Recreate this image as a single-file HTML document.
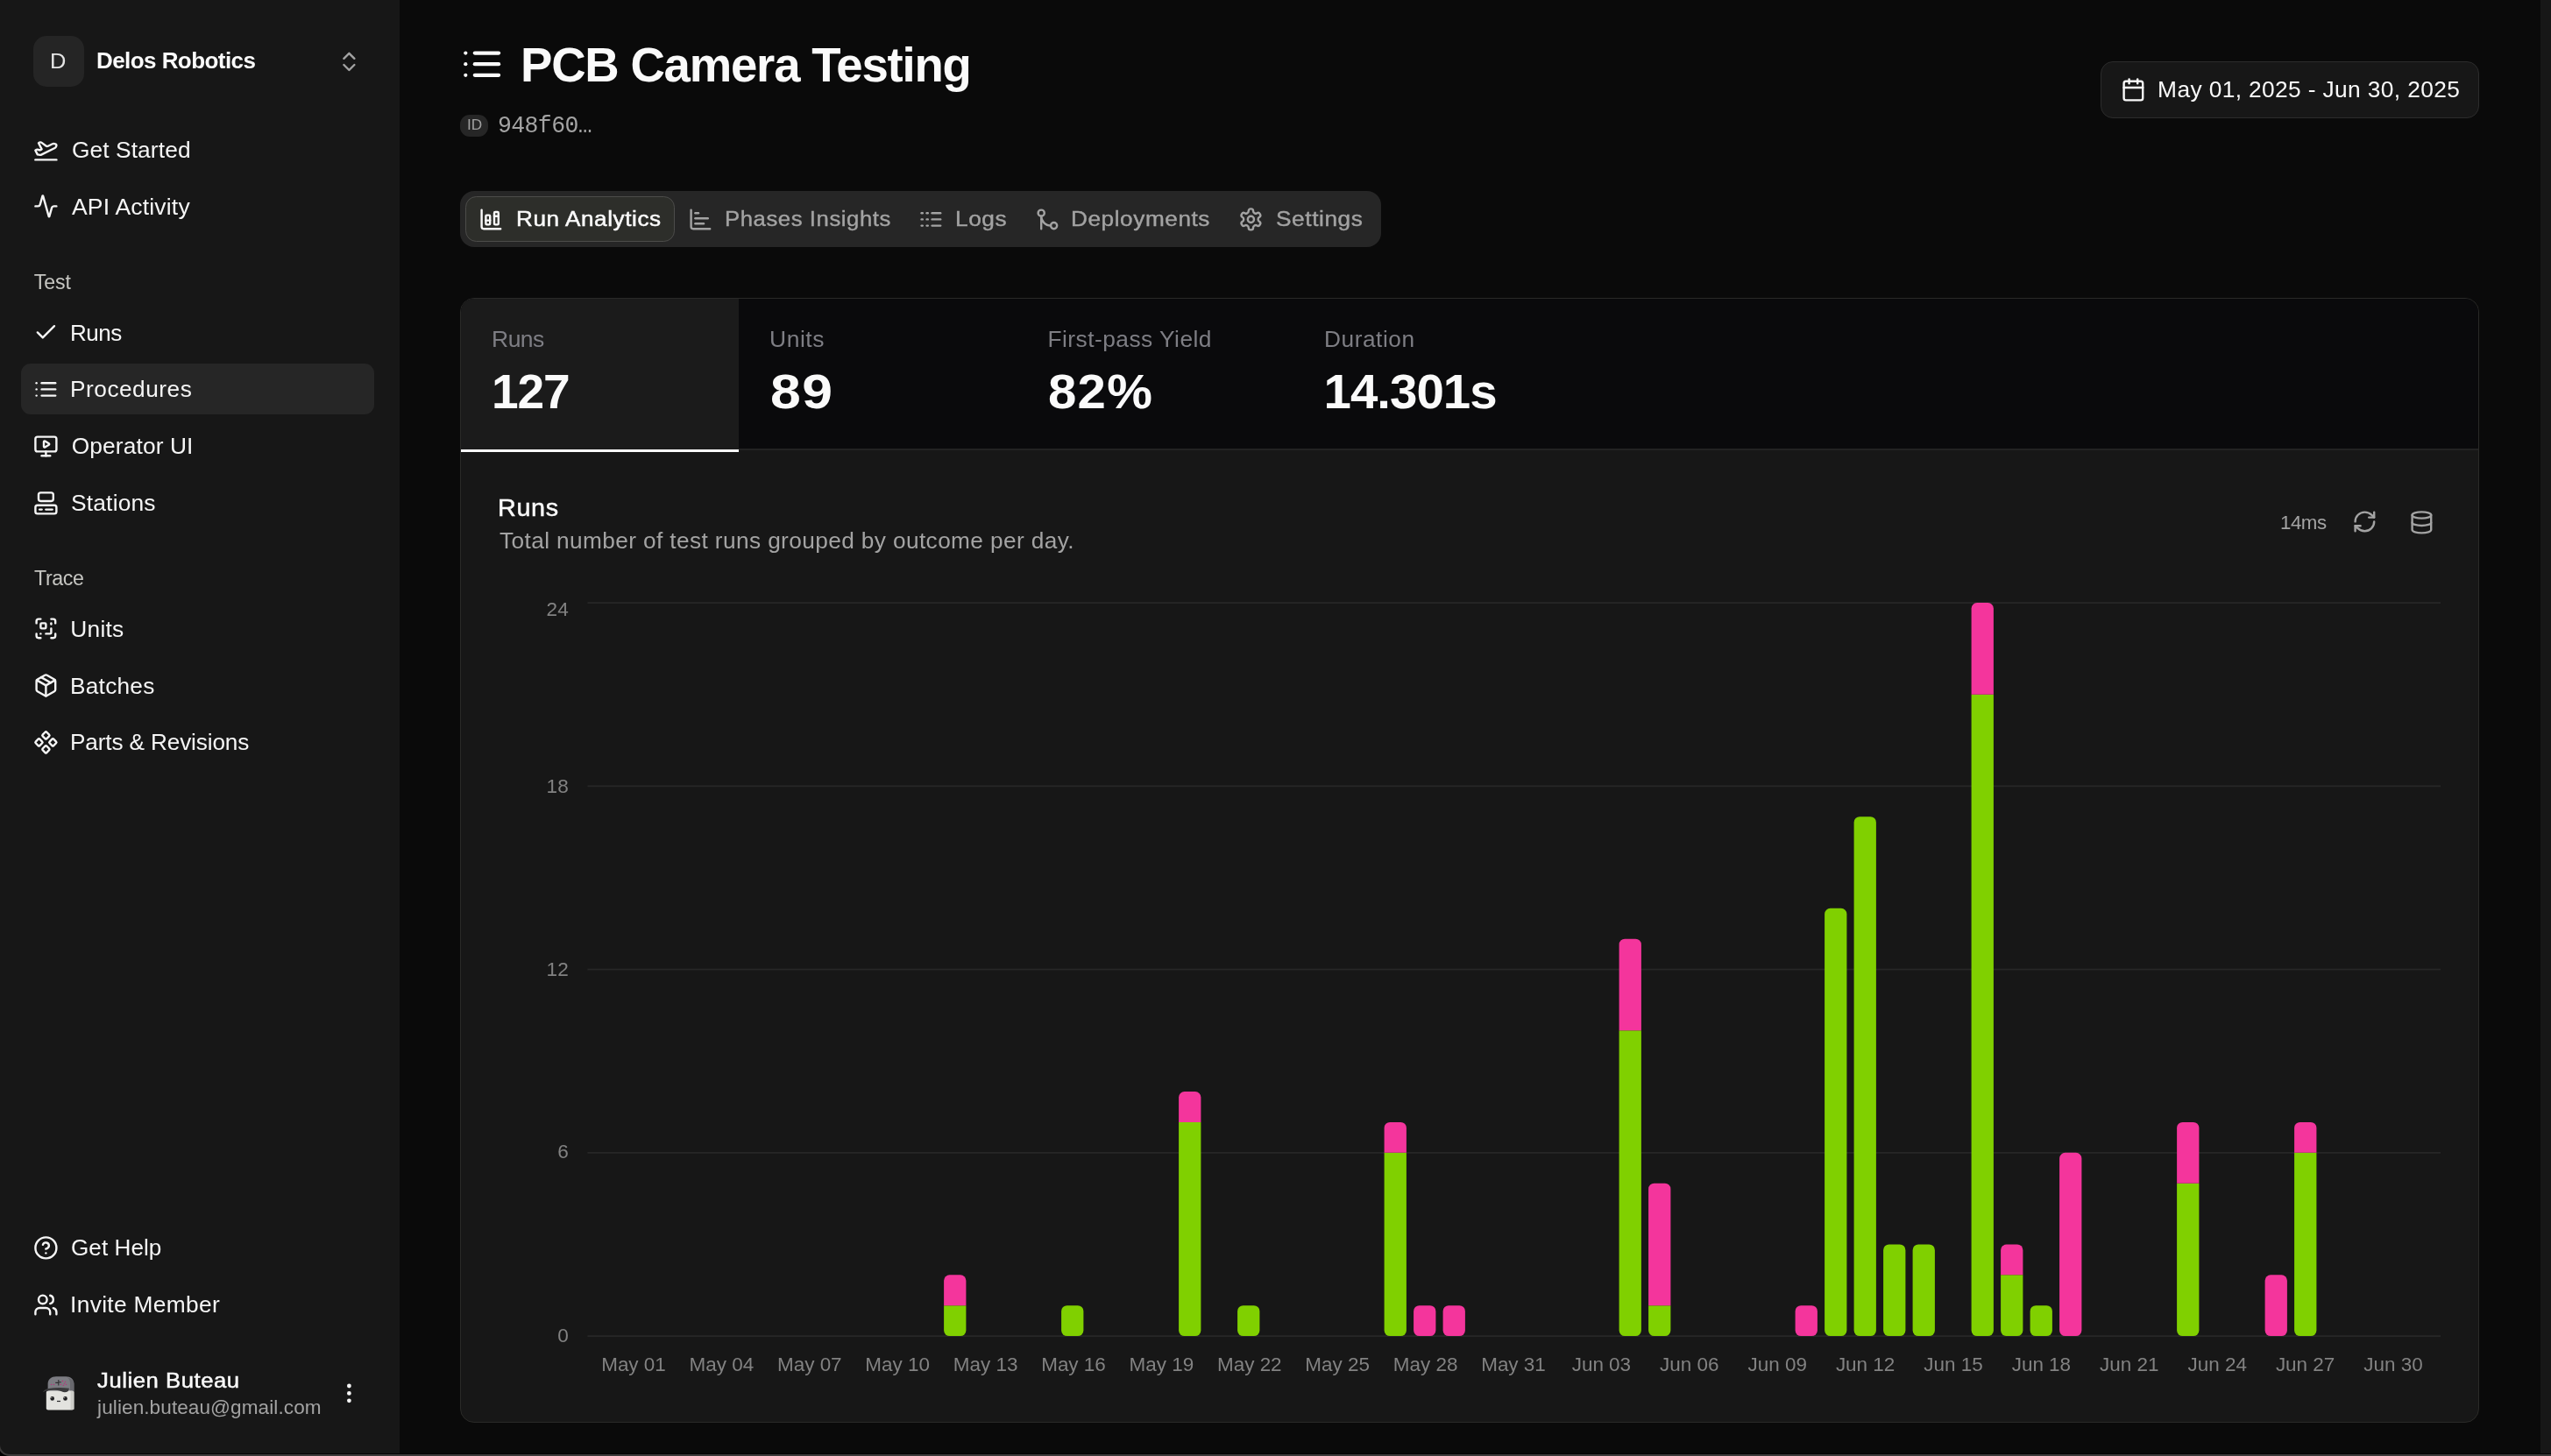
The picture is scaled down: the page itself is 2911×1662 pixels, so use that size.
<!DOCTYPE html>
<html lang="en"><head><meta charset="utf-8"><title>PCB Camera Testing</title>
<style>
html,body{margin:0;padding:0;background:#0a0a0a;}
body{width:2911px;height:1662px;overflow:hidden;position:relative;font-family:"Liberation Sans",sans-serif;}
.a{position:absolute;}
.t{position:absolute;white-space:pre;line-height:1;}
#tx{position:absolute;left:0;top:0;width:2911px;height:1662px;will-change:transform;}
svg.i{position:absolute;fill:none;stroke-linecap:round;stroke-linejoin:round;overflow:visible;}
</style></head><body>

<div class="a" style="left:0;top:0;width:456px;height:1662px;background:#171717"></div>
<div class="a" style="left:2899px;top:0;width:12px;height:1662px;background:#171717"></div>
<div class="a" style="left:38px;top:41px;width:58px;height:58px;border-radius:15px;background:#252525"></div>
<div class="a" style="left:24px;top:415px;width:403px;height:58px;border-radius:11px;background:#262626"></div>
<div class="a" style="left:525.3px;top:131px;width:31.6px;height:24.8px;border-radius:11px;background:#262626"></div>
<div class="a" style="left:525.2px;top:218px;width:1050.6px;height:63.8px;border-radius:16px;background:#262626"></div>
<div class="a" style="left:531.1px;top:223.6px;width:238.6px;height:52.5px;border-radius:12.5px;background:#2d2e2a;box-sizing:border-box;border:1.5px solid #4c4c4a"></div>
<div class="a" style="left:2397px;top:70px;width:432px;height:64.8px;border-radius:14px;background:#171717;box-sizing:border-box;border:1.5px solid #2c2c2c"></div>
<div class="a" style="left:525px;top:340px;width:2304px;height:1283.6px;border-radius:16px;background:#171717;box-sizing:border-box;border:1.6px solid #2a2a28;overflow:hidden"><div class="a" style="left:0;top:0;width:2304px;height:172.6px;background:#0a0a0c"></div><div class="a" style="left:0;top:0;width:316.6px;height:172.6px;background:#1b1b1b"></div><div class="a" style="left:316.6px;top:171.4px;width:2000px;height:1.8px;background:#232323"></div><div class="a" style="left:0;top:171.6px;width:316.6px;height:3.2px;background:#fafafa"></div></div>
<div class="a" style="left:0;top:1658.6px;width:2911px;height:1.4px;background:#040404"></div>
<div class="a" style="left:0;top:1660px;width:2911px;height:2px;background:#3c3a3a"></div>
<div class="a" style="left:0;top:1644px;width:18px;height:18px;background:#000"></div>
<div class="a" style="left:-2px;top:1626px;width:36px;height:36px;border-radius:0 0 0 13px;background:#171717;box-sizing:border-box;border-left:2px solid #3c3a3a;border-bottom:2px solid #3c3a3a"></div>
<svg class="a" style="left:0;top:0" width="2911" height="1662" viewBox="0 0 2911 1662" shape-rendering="geometricPrecision"><rect x="670.4" y="1524.20" width="2114.6" height="1.8" fill="#272727"/><rect x="670.4" y="1314.95" width="2114.6" height="1.8" fill="#272727"/><rect x="670.4" y="1105.70" width="2114.6" height="1.8" fill="#272727"/><rect x="670.4" y="896.45" width="2114.6" height="1.8" fill="#272727"/><rect x="670.4" y="687.20" width="2114.6" height="1.8" fill="#272727"/><path d="M1077.10 1490.22H1102.40V1518.60A6.5 6.5 0 0 1 1095.90 1525.10H1083.60A6.5 6.5 0 0 1 1077.10 1518.60V1490.22Z" fill="#80d000"/><path d="M1083.60 1455.35H1095.90A6.5 6.5 0 0 1 1102.40 1461.85V1490.22H1077.10V1461.85A6.5 6.5 0 0 1 1083.60 1455.35Z" fill="#f4359c"/><path d="M1217.60 1490.22H1229.90A6.5 6.5 0 0 1 1236.40 1496.72V1518.60A6.5 6.5 0 0 1 1229.90 1525.10H1217.60A6.5 6.5 0 0 1 1211.10 1518.60V1496.72A6.5 6.5 0 0 1 1217.60 1490.22Z" fill="#80d000"/><path d="M1345.10 1280.97H1370.40V1518.60A6.5 6.5 0 0 1 1363.90 1525.10H1351.60A6.5 6.5 0 0 1 1345.10 1518.60V1280.97Z" fill="#80d000"/><path d="M1351.60 1246.10H1363.90A6.5 6.5 0 0 1 1370.40 1252.60V1280.97H1345.10V1252.60A6.5 6.5 0 0 1 1351.60 1246.10Z" fill="#f4359c"/><path d="M1418.60 1490.22H1430.90A6.5 6.5 0 0 1 1437.40 1496.72V1518.60A6.5 6.5 0 0 1 1430.90 1525.10H1418.60A6.5 6.5 0 0 1 1412.10 1518.60V1496.72A6.5 6.5 0 0 1 1418.60 1490.22Z" fill="#80d000"/><path d="M1579.60 1315.85H1604.90V1518.60A6.5 6.5 0 0 1 1598.40 1525.10H1586.10A6.5 6.5 0 0 1 1579.60 1518.60V1315.85Z" fill="#80d000"/><path d="M1586.10 1280.97H1598.40A6.5 6.5 0 0 1 1604.90 1287.47V1315.85H1579.60V1287.47A6.5 6.5 0 0 1 1586.10 1280.97Z" fill="#f4359c"/><path d="M1619.60 1490.22H1631.90A6.5 6.5 0 0 1 1638.40 1496.72V1518.60A6.5 6.5 0 0 1 1631.90 1525.10H1619.60A6.5 6.5 0 0 1 1613.10 1518.60V1496.72A6.5 6.5 0 0 1 1619.60 1490.22Z" fill="#f4359c"/><path d="M1653.10 1490.22H1665.40A6.5 6.5 0 0 1 1671.90 1496.72V1518.60A6.5 6.5 0 0 1 1665.40 1525.10H1653.10A6.5 6.5 0 0 1 1646.60 1518.60V1496.72A6.5 6.5 0 0 1 1653.10 1490.22Z" fill="#f4359c"/><path d="M1847.60 1176.35H1872.90V1518.60A6.5 6.5 0 0 1 1866.40 1525.10H1854.10A6.5 6.5 0 0 1 1847.60 1518.60V1176.35Z" fill="#80d000"/><path d="M1854.10 1071.72H1866.40A6.5 6.5 0 0 1 1872.90 1078.22V1176.35H1847.60V1078.22A6.5 6.5 0 0 1 1854.10 1071.72Z" fill="#f4359c"/><path d="M1881.10 1490.22H1906.40V1518.60A6.5 6.5 0 0 1 1899.90 1525.10H1887.60A6.5 6.5 0 0 1 1881.10 1518.60V1490.22Z" fill="#80d000"/><path d="M1887.60 1350.72H1899.90A6.5 6.5 0 0 1 1906.40 1357.22V1490.22H1881.10V1357.22A6.5 6.5 0 0 1 1887.60 1350.72Z" fill="#f4359c"/><path d="M2055.10 1490.22H2067.40A6.5 6.5 0 0 1 2073.90 1496.72V1518.60A6.5 6.5 0 0 1 2067.40 1525.10H2055.10A6.5 6.5 0 0 1 2048.60 1518.60V1496.72A6.5 6.5 0 0 1 2055.10 1490.22Z" fill="#f4359c"/><path d="M2088.60 1036.85H2100.90A6.5 6.5 0 0 1 2107.40 1043.35V1518.60A6.5 6.5 0 0 1 2100.90 1525.10H2088.60A6.5 6.5 0 0 1 2082.10 1518.60V1043.35A6.5 6.5 0 0 1 2088.60 1036.85Z" fill="#80d000"/><path d="M2122.10 932.22H2134.40A6.5 6.5 0 0 1 2140.90 938.72V1518.60A6.5 6.5 0 0 1 2134.40 1525.10H2122.10A6.5 6.5 0 0 1 2115.60 1518.60V938.72A6.5 6.5 0 0 1 2122.10 932.22Z" fill="#80d000"/><path d="M2155.60 1420.47H2167.90A6.5 6.5 0 0 1 2174.40 1426.97V1518.60A6.5 6.5 0 0 1 2167.90 1525.10H2155.60A6.5 6.5 0 0 1 2149.10 1518.60V1426.97A6.5 6.5 0 0 1 2155.60 1420.47Z" fill="#80d000"/><path d="M2189.10 1420.47H2201.40A6.5 6.5 0 0 1 2207.90 1426.97V1518.60A6.5 6.5 0 0 1 2201.40 1525.10H2189.10A6.5 6.5 0 0 1 2182.60 1518.60V1426.97A6.5 6.5 0 0 1 2189.10 1420.47Z" fill="#80d000"/><path d="M2249.60 792.72H2274.90V1518.60A6.5 6.5 0 0 1 2268.40 1525.10H2256.10A6.5 6.5 0 0 1 2249.60 1518.60V792.72Z" fill="#80d000"/><path d="M2256.10 688.10H2268.40A6.5 6.5 0 0 1 2274.90 694.60V792.72H2249.60V694.60A6.5 6.5 0 0 1 2256.10 688.10Z" fill="#f4359c"/><path d="M2283.10 1455.35H2308.40V1518.60A6.5 6.5 0 0 1 2301.90 1525.10H2289.60A6.5 6.5 0 0 1 2283.10 1518.60V1455.35Z" fill="#80d000"/><path d="M2289.60 1420.47H2301.90A6.5 6.5 0 0 1 2308.40 1426.97V1455.35H2283.10V1426.97A6.5 6.5 0 0 1 2289.60 1420.47Z" fill="#f4359c"/><path d="M2323.10 1490.22H2335.40A6.5 6.5 0 0 1 2341.90 1496.72V1518.60A6.5 6.5 0 0 1 2335.40 1525.10H2323.10A6.5 6.5 0 0 1 2316.60 1518.60V1496.72A6.5 6.5 0 0 1 2323.10 1490.22Z" fill="#80d000"/><path d="M2356.60 1315.85H2368.90A6.5 6.5 0 0 1 2375.40 1322.35V1518.60A6.5 6.5 0 0 1 2368.90 1525.10H2356.60A6.5 6.5 0 0 1 2350.10 1518.60V1322.35A6.5 6.5 0 0 1 2356.60 1315.85Z" fill="#f4359c"/><path d="M2484.10 1350.72H2509.40V1518.60A6.5 6.5 0 0 1 2502.90 1525.10H2490.60A6.5 6.5 0 0 1 2484.10 1518.60V1350.72Z" fill="#80d000"/><path d="M2490.60 1280.97H2502.90A6.5 6.5 0 0 1 2509.40 1287.47V1350.72H2484.10V1287.47A6.5 6.5 0 0 1 2490.60 1280.97Z" fill="#f4359c"/><path d="M2591.10 1455.35H2603.40A6.5 6.5 0 0 1 2609.90 1461.85V1518.60A6.5 6.5 0 0 1 2603.40 1525.10H2591.10A6.5 6.5 0 0 1 2584.60 1518.60V1461.85A6.5 6.5 0 0 1 2591.10 1455.35Z" fill="#f4359c"/><path d="M2618.10 1315.85H2643.40V1518.60A6.5 6.5 0 0 1 2636.90 1525.10H2624.60A6.5 6.5 0 0 1 2618.10 1518.60V1315.85Z" fill="#80d000"/><path d="M2624.60 1280.97H2636.90A6.5 6.5 0 0 1 2643.40 1287.47V1315.85H2618.10V1287.47A6.5 6.5 0 0 1 2624.60 1280.97Z" fill="#f4359c"/></svg>
<svg class="a" style="left:46px;top:1568px" width="44" height="46" viewBox="46 1568 44 46">
<path d="M54.6 1588v-8.5c0-5 4-8.2 9.5-8.2h11c5.5 0 9.3 3.3 9.3 8.3v8.4z" fill="#7c7c82"/>
<path d="M77 1572.5c4.5 1 7.4 3.6 7.4 7.5v8h-4.4v-9c0-2.8-1-4.8-3-6.500z" fill="#68686d"/>
<rect x="52.8" y="1587.4" width="31.6" height="22" rx="2.2" fill="#e3e3df"/>
<rect x="80.6" y="1588" width="3.8" height="21" fill="#cdcdc8"/>
<path d="M48.6 1589.3c2-2.6 4-3.9 6.4-4.3 8-1.2 16-1.3 24-.2l-1.2 3.2c-2.6 1.6-5 1.5-7.600.2-5-1.700-11-1.700-16-.8-2.200.4-4 1.100-5.600 1.900z" fill="#3a3a3c"/>
<circle cx="59.7" cy="1596.4" r="2.3" fill="#1d1d1f"/><circle cx="74.5" cy="1596.4" r="2.3" fill="#1d1d1f"/>
<circle cx="58.9" cy="1595.5" r=".7" fill="#9a9a9a"/><circle cx="73.7" cy="1595.5" r=".7" fill="#9a9a9a"/>
<rect x="65" y="1598.900" width="4" height="1.2" fill="#2a2a2a"/>
<path d="M66.800 1575v6.500M63.300 1578.400h3.500M66.800 1577.800h3" stroke="#2e2e30" stroke-width="1.1" fill="none"/>
<g fill="#c02c7c"><circle cx="58.5" cy="1580.4" r=".7"/><circle cx="61.400" cy="1580.4" r=".7"/><circle cx="69.500" cy="1580.400" r=".7"/><circle cx="71.400" cy="1576.500" r=".7"/><circle cx="73.500" cy="1579.400" r=".7"/><circle cx="74.500" cy="1577.400" r=".7"/><circle cx="72.400" cy="1581.400" r=".7"/><circle cx="75.500" cy="1580.400" r=".7"/></g>
</svg>
<svg class="i" style="left:37.80px;top:156.10px;stroke:#f5f5f5" width="28.8" height="28.8" viewBox="0 0 24 24" stroke-width="2"><path d="M2 22h20"/><path d="M6.36 17.4 4 17l-2-4 1.1-.55a2 2 0 0 1 1.8 0l.17.1a2 2 0 0 0 1.8 0L8 12 5 6l.9-.45a2 2 0 0 1 2.09.2l4.02 3a2 2 0 0 0 2.1.2l4.19-2.06a2.41 2.41 0 0 1 1.73-.17L21 7a1.4 1.4 0 0 1 .87 1.99l-.38.76c-.23.46-.6.84-1.07 1.08L7.58 17.2a2 2 0 0 1-1.22.18Z"/></svg>
<svg class="i" style="left:37.80px;top:220.90px;stroke:#f5f5f5" width="28.8" height="28.8" viewBox="0 0 24 24" stroke-width="2"><path d="M22 12h-2.48a2 2 0 0 0-1.93 1.46l-2.35 8.36a.25.25 0 0 1-.48 0L9.24 2.18a.25.25 0 0 0-.48 0l-2.35 8.36A2 2 0 0 1 4.49 12H2"/></svg>
<svg class="i" style="left:37.80px;top:365.40px;stroke:#f5f5f5" width="28.8" height="28.8" viewBox="0 0 24 24" stroke-width="2"><path d="M20 6 9 17l-5-5"/></svg>
<svg class="i" style="left:37.80px;top:430.00px;stroke:#f5f5f5" width="28.8" height="28.8" viewBox="0 0 24 24" stroke-width="2"><path d="M3 12h.01"/><path d="M3 18h.01"/><path d="M3 6h.01"/><path d="M8 12h13"/><path d="M8 18h13"/><path d="M8 6h13"/></svg>
<svg class="i" style="left:37.80px;top:494.80px;stroke:#f5f5f5" width="28.8" height="28.8" viewBox="0 0 24 24" stroke-width="2"><path d="M10 7.75a.75.75 0 0 1 1.142-.638l3.664 2.249a.75.75 0 0 1 0 1.278l-3.664 2.25a.75.75 0 0 1-1.142-.64z"/><path d="M12 17v4"/><path d="M8 21h8"/><rect x="2" y="3" width="20" height="14" rx="2"/></svg>
<svg class="i" style="left:37.80px;top:559.50px;stroke:#f5f5f5" width="28.8" height="28.8" viewBox="0 0 24 24" stroke-width="2"><rect width="14" height="8" x="5" y="2" rx="2"/><rect width="20" height="8" x="2" y="14" rx="2"/><path d="M6 18h2"/><path d="M12 18h6"/></svg>
<svg class="i" style="left:37.80px;top:703.10px;stroke:#f5f5f5" width="28.8" height="28.8" viewBox="0 0 24 24" stroke-width="2"><path d="M17 12v4a1 1 0 0 1-1 1h-4"/><path d="M17 3h2a2 2 0 0 1 2 2v2"/><path d="M17 8V7"/><path d="M21 17v2a2 2 0 0 1-2 2h-2"/><path d="M3 7V5a2 2 0 0 1 2-2h2"/><path d="M7 17h.01"/><path d="M7 21H5a2 2 0 0 1-2-2v-2"/><rect x="7" y="7" width="5" height="5" rx="1"/></svg>
<svg class="i" style="left:37.80px;top:768.00px;stroke:#f5f5f5" width="28.8" height="28.8" viewBox="0 0 24 24" stroke-width="2"><path d="m7.5 4.27 9 5.15"/><path d="M21 8a2 2 0 0 0-1-1.73l-7-4a2 2 0 0 0-2 0l-7 4A2 2 0 0 0 3 8v8a2 2 0 0 0 1 1.73l7 4a2 2 0 0 0 2 0l7-4A2 2 0 0 0 21 16Z"/><path d="m3.3 7 8.7 5 8.7-5"/><path d="M12 22V12"/></svg>
<svg class="i" style="left:37.80px;top:833.00px;stroke:#f5f5f5" width="28.8" height="28.8" viewBox="0 0 24 24" stroke-width="2"><path d="M15.536 11.293a1 1 0 0 0 0 1.414l2.376 2.377a1 1 0 0 0 1.414 0l2.377-2.377a1 1 0 0 0 0-1.414l-2.377-2.377a1 1 0 0 0-1.414 0z"/><path d="M2.297 11.293a1 1 0 0 0 0 1.414l2.377 2.377a1 1 0 0 0 1.414 0l2.377-2.377a1 1 0 0 0 0-1.414L6.088 8.916a1 1 0 0 0-1.414 0z"/><path d="M8.916 17.912a1 1 0 0 0 0 1.415l2.377 2.376a1 1 0 0 0 1.414 0l2.377-2.376a1 1 0 0 0 0-1.415l-2.377-2.376a1 1 0 0 0-1.414 0z"/><path d="M8.916 4.674a1 1 0 0 0 0 1.414l2.377 2.376a1 1 0 0 0 1.414 0l2.377-2.376a1 1 0 0 0 0-1.414l-2.377-2.377a1 1 0 0 0-1.414 0z"/></svg>
<svg class="i" style="left:37.80px;top:1409.80px;stroke:#f5f5f5" width="28.8" height="28.8" viewBox="0 0 24 24" stroke-width="2"><circle cx="12" cy="12" r="10"/><path d="M9.09 9a3 3 0 0 1 5.83 1c0 2-3 3-3 3"/><path d="M12 17h.01"/></svg>
<svg class="i" style="left:37.80px;top:1475.10px;stroke:#f5f5f5" width="28.8" height="28.8" viewBox="0 0 24 24" stroke-width="2"><path d="M16 21v-2a4 4 0 0 0-4-4H6a4 4 0 0 0-4 4v2"/><circle cx="9" cy="7" r="4"/><path d="M22 21v-2a4 4 0 0 0-3-3.87"/><path d="M16 3.13a4 4 0 0 1 0 7.75"/></svg>
<svg class="i" style="left:383.90px;top:56.00px;stroke:#a3a3a3" width="28.8" height="28.8" viewBox="0 0 24 24" stroke-width="2"><path d="m7 15 5 5 5-5"/><path d="m7 9 5-5 5 5"/></svg>
<svg class="i" style="left:383.90px;top:1575.90px;stroke:#f5f5f5" width="28.8" height="28.8" viewBox="0 0 24 24" stroke-width="2"><circle cx="12" cy="12" r="1"/><circle cx="12" cy="5" r="1"/><circle cx="12" cy="19" r="1"/></svg>
<svg class="i" style="left:525.00px;top:48.00px;stroke:#fafafa" width="50.4" height="50.4" viewBox="0 0 24 24" stroke-width="2"><path d="M3 12h.01"/><path d="M3 18h.01"/><path d="M3 6h.01"/><path d="M8 12h13"/><path d="M8 18h13"/><path d="M8 6h13"/></svg>
<svg class="i" style="left:545.90px;top:236.10px;stroke:#fafafa" width="28.8" height="28.8" viewBox="0 0 24 24" stroke-width="2"><path d="M11 13H7"/><path d="M19 9h-4"/><path d="M3 3v16a2 2 0 0 0 2 2h16"/><rect x="15" y="5" width="4" height="12" rx="1"/><rect x="7" y="8" width="4" height="9" rx="1"/></svg>
<svg class="i" style="left:784.90px;top:236.10px;stroke:#a3a3a3" width="28.8" height="28.8" viewBox="0 0 24 24" stroke-width="2"><path d="M3 3v16a2 2 0 0 0 2 2h16"/><path d="M7 16h8"/><path d="M7 11h12"/><path d="M7 6h3"/></svg>
<svg class="i" style="left:1047.70px;top:236.10px;stroke:#a3a3a3" width="28.8" height="28.8" viewBox="0 0 24 24" stroke-width="2"><path d="M13 12h8"/><path d="M13 18h8"/><path d="M13 6h8"/><path d="M3 12h1"/><path d="M3 18h1"/><path d="M3 6h1"/><path d="M8 12h1"/><path d="M8 18h1"/><path d="M8 6h1"/></svg>
<svg class="i" style="left:1181.10px;top:236.10px;stroke:#a3a3a3" width="28.8" height="28.8" viewBox="0 0 24 24" stroke-width="2"><circle cx="18" cy="18" r="3"/><circle cx="6" cy="6" r="3"/><path d="M6 21V9a9 9 0 0 0 9 9"/></svg>
<svg class="i" style="left:1413.20px;top:236.10px;stroke:#a3a3a3" width="28.8" height="28.8" viewBox="0 0 24 24" stroke-width="2"><path d="M12.22 2h-.44a2 2 0 0 0-2 2v.18a2 2 0 0 1-1 1.73l-.43.25a2 2 0 0 1-2 0l-.15-.08a2 2 0 0 0-2.73.73l-.22.38a2 2 0 0 0 .73 2.73l.15.1a2 2 0 0 1 1 1.72v.51a2 2 0 0 1-1 1.74l-.15.09a2 2 0 0 0-.73 2.73l.22.38a2 2 0 0 0 2.73.73l.15-.08a2 2 0 0 1 2 0l.43.25a2 2 0 0 1 1 1.73V20a2 2 0 0 0 2 2h.44a2 2 0 0 0 2-2v-.18a2 2 0 0 1 1-1.73l.43-.25a2 2 0 0 1 2 0l.15.08a2 2 0 0 0 2.73-.73l.22-.39a2 2 0 0 0-.73-2.73l-.15-.08a2 2 0 0 1-1-1.74v-.5a2 2 0 0 1 1-1.74l.15-.09a2 2 0 0 0 .73-2.73l-.22-.38a2 2 0 0 0-2.73-.73l-.15.08a2 2 0 0 1-2 0l-.43-.25a2 2 0 0 1-1-1.73V4a2 2 0 0 0-2-2z"/><circle cx="12" cy="12" r="3"/></svg>
<svg class="i" style="left:2419.80px;top:88.20px;stroke:#fafafa" width="28.8" height="28.8" viewBox="0 0 24 24" stroke-width="2"><path d="M8 2v4"/><path d="M16 2v4"/><rect width="18" height="18" x="3" y="4" rx="2"/><path d="M3 10h18"/></svg>
<svg class="i" style="left:2683.70px;top:581.40px;stroke:#a3a3a3" width="28.8" height="28.8" viewBox="0 0 24 24" stroke-width="2"><path d="M3 12a9 9 0 0 1 9-9 9.75 9.75 0 0 1 6.74 2.74L21 8"/><path d="M21 3v5h-5"/><path d="M21 12a9 9 0 0 1-9 9 9.75 9.75 0 0 1-6.74-2.74L3 16"/><path d="M8 16H3v5"/></svg>
<svg class="i" style="left:2748.60px;top:582.00px;stroke:#a3a3a3" width="28.8" height="28.8" viewBox="0 0 24 24" stroke-width="2"><ellipse cx="12" cy="5" rx="9" ry="3"/><path d="M3 5V19A9 3 0 0 0 21 19V5"/><path d="M3 12A9 3 0 0 0 21 12"/></svg>
<div id="tx">
<div class="t" id="org_d" style="left:57.30px;top:57.60px;font-size:24.45px;color:#e5e5e5;transform:scaleX(1.0404);transform-origin:0 50%;">D</div>
<div class="t" id="org" style="left:109.70px;top:56.00px;font-size:26.33px;color:#fafafa;font-weight:700;letter-spacing:-0.579px;transform:scaleX(0.9880);transform-origin:0 50%;">Delos Robotics</div>
<div class="t" id="n1" style="left:81.90px;top:158.00px;font-size:26.33px;color:#f5f5f5;letter-spacing:0.100px;">Get Started</div>
<div class="t" id="n2" style="left:81.90px;top:222.90px;font-size:26.33px;color:#f5f5f5;letter-spacing:0.182px;transform:scaleX(1.0074);transform-origin:0 50%;">API Activity</div>
<div class="t" id="n3" style="left:79.70px;top:367.30px;font-size:26.33px;color:#f5f5f5;letter-spacing:-0.512px;transform:scaleX(0.9897);transform-origin:0 50%;">Runs</div>
<div class="t" id="n4" style="left:79.70px;top:430.50px;font-size:26.33px;color:#f5f5f5;letter-spacing:0.511px;transform:scaleX(0.9970);transform-origin:0 50%;">Procedures</div>
<div class="t" id="n5" style="left:81.70px;top:496.40px;font-size:26.33px;color:#f5f5f5;letter-spacing:0.120px;">Operator UI</div>
<div class="t" id="n6" style="left:80.70px;top:560.50px;font-size:26.33px;color:#f5f5f5;letter-spacing:0.172px;transform:scaleX(1.0022);transform-origin:0 50%;">Stations</div>
<div class="t" id="n7" style="left:80.30px;top:705.40px;font-size:26.33px;color:#f5f5f5;letter-spacing:0.250px;">Units</div>
<div class="t" id="n8" style="left:80.30px;top:770.40px;font-size:26.33px;color:#f5f5f5;letter-spacing:0.266px;transform:scaleX(0.9959);transform-origin:0 50%;">Batches</div>
<div class="t" id="n9" style="left:80.30px;top:834.30px;font-size:26.33px;color:#f5f5f5;letter-spacing:-0.138px;transform:scaleX(0.9941);transform-origin:0 50%;">Parts &amp; Revisions</div>
<div class="t" id="n10" style="left:81.10px;top:1411.30px;font-size:26.33px;color:#f5f5f5;letter-spacing:0.029px;transform:scaleX(0.9923);transform-origin:0 50%;">Get Help</div>
<div class="t" id="n11" style="left:80.10px;top:1475.60px;font-size:26.33px;color:#f5f5f5;letter-spacing:0.316px;">Invite Member</div>
<div class="t" id="g1" style="left:38.70px;top:311.44px;font-size:23.10px;color:#c6c6c2;">Test</div>
<div class="t" id="g2" style="left:38.90px;top:648.94px;font-size:23.10px;color:#c6c6c2;letter-spacing:-0.400px;transform:scaleX(1.0072);transform-origin:0 50%;">Trace</div>
<div class="t" id="uname" style="left:110.90px;top:1563.64px;font-size:24.40px;color:#fafafa;letter-spacing:0.537px;-webkit-text-stroke:0.5px #fafafa;transform:scaleX(1.0510);transform-origin:0 50%;">Julien Buteau</div>
<div class="t" id="uemail" style="left:111.10px;top:1595.79px;font-size:22.57px;color:#a3a3a3;letter-spacing:0.082px;">julien.buteau@gmail.com</div>
<div class="t" id="title" style="left:593.50px;top:45.56px;font-size:55.91px;color:#fafafa;font-weight:700;letter-spacing:-1.230px;transform:scaleX(0.9751);transform-origin:0 50%;">PCB Camera Testing</div>
<div class="t" id="idb" style="left:532.90px;top:134.44px;font-size:17.20px;color:#a0a0a0;">ID</div>
<div class="t" id="idv" style="left:567.70px;top:130.33px;font-size:27.50px;color:#a3a3a3;font-family:'Liberation Mono', monospace;letter-spacing:-0.605px;transform:scaleX(0.9615);transform-origin:0 50%;">948f60…</div>
<div class="t" id="tab1" style="left:589.10px;top:238.49px;font-size:24.70px;color:#fafafa;letter-spacing:0.543px;-webkit-text-stroke:0.5px #fafafa;transform:scaleX(1.0580);transform-origin:0 50%;">Run Analytics</div>
<div class="t" id="tab2" style="left:826.50px;top:238.49px;font-size:24.70px;color:#a3a3a3;letter-spacing:0.543px;-webkit-text-stroke:0.4px #a3a3a3;transform:scaleX(1.0411);transform-origin:0 50%;">Phases Insights</div>
<div class="t" id="tab3" style="left:1089.70px;top:238.49px;font-size:24.70px;color:#a3a3a3;letter-spacing:0.543px;-webkit-text-stroke:0.4px #a3a3a3;transform:scaleX(1.0631);transform-origin:0 50%;">Logs</div>
<div class="t" id="tab4" style="left:1222.10px;top:238.49px;font-size:24.70px;color:#a3a3a3;letter-spacing:0.543px;-webkit-text-stroke:0.4px #a3a3a3;transform:scaleX(1.0598);transform-origin:0 50%;">Deployments</div>
<div class="t" id="tab5" style="left:1455.50px;top:238.49px;font-size:24.70px;color:#a3a3a3;letter-spacing:0.543px;-webkit-text-stroke:0.4px #a3a3a3;transform:scaleX(1.0631);transform-origin:0 50%;">Settings</div>
<div class="t" id="date" style="left:2462.10px;top:89.10px;font-size:26.33px;color:#fafafa;letter-spacing:0.370px;">May 01, 2025 - Jun 30, 2025</div>
<div class="t" id="s1l" style="left:560.90px;top:373.80px;font-size:26.33px;color:#7e7e84;letter-spacing:-0.512px;transform:scaleX(1.0070);transform-origin:0 50%;">Runs</div>
<div class="t" id="s2l" style="left:877.70px;top:373.80px;font-size:26.33px;color:#7e7e84;letter-spacing:0.550px;transform:scaleX(1.0035);transform-origin:0 50%;">Units</div>
<div class="t" id="s3l" style="left:1195.50px;top:373.80px;font-size:26.33px;color:#7e7e84;letter-spacing:0.467px;">First-pass Yield</div>
<div class="t" id="s4l" style="left:1511.10px;top:373.80px;font-size:26.33px;color:#7e7e84;letter-spacing:0.543px;transform:scaleX(0.9980);transform-origin:0 50%;">Duration</div>
<div class="t" id="s1v" style="left:561.10px;top:419.42px;font-size:56.43px;color:#fafafa;font-weight:700;letter-spacing:-1.241px;transform:scaleX(0.9768);transform-origin:0 50%;">127</div>
<div class="t" id="s2v" style="left:878.50px;top:419.42px;font-size:56.43px;color:#fafafa;font-weight:700;letter-spacing:1.241px;transform:scaleX(1.1084);transform-origin:0 50%;">89</div>
<div class="t" id="s3v" style="left:1195.70px;top:419.42px;font-size:56.43px;color:#fafafa;font-weight:700;letter-spacing:1.241px;transform:scaleX(1.0302);transform-origin:0 50%;">82%</div>
<div class="t" id="s4v" style="left:1510.50px;top:419.42px;font-size:56.43px;color:#fafafa;font-weight:700;letter-spacing:-0.967px;">14.301s</div>
<div class="t" id="ct" style="left:568.10px;top:565.58px;font-size:27.90px;color:#fafafa;letter-spacing:0.614px;-webkit-text-stroke:0.5px #fafafa;transform:scaleX(1.0308);transform-origin:0 50%;">Runs</div>
<div class="t" id="cd" style="left:570.10px;top:604.00px;font-size:26.33px;color:#a3a3a3;letter-spacing:0.384px;transform:scaleX(0.9970);transform-origin:0 50%;">Total number of test runs grouped by outcome per day.</div>
<div class="t" id="ms" style="left:2602.10px;top:585.89px;font-size:22.57px;color:#a3a3a3;letter-spacing:-0.497px;transform:scaleX(0.9885);transform-origin:0 50%;">14ms</div>
<div class="t" id="y24" style="right:2262.30px;top:685.39px;font-size:22.57px;color:#828282;">24</div>
<div class="t" id="y18" style="right:2262.30px;top:886.79px;font-size:22.57px;color:#828282;">18</div>
<div class="t" id="y12" style="right:2262.30px;top:1095.89px;font-size:22.57px;color:#828282;">12</div>
<div class="t" id="y6" style="right:2262.30px;top:1304.49px;font-size:22.57px;color:#828282;">6</div>
<div class="t" id="y0" style="right:2262.30px;top:1513.89px;font-size:22.57px;color:#828282;">0</div>
<div class="t" id="x0" style="left:723.00px;transform:translateX(-50%);top:1546.88px;font-size:22.46px;color:#828282;">May 01</div>
<div class="t" id="x1" style="left:823.40px;transform:translateX(-50%);top:1546.88px;font-size:22.46px;color:#828282;">May 04</div>
<div class="t" id="x2" style="left:923.80px;transform:translateX(-50%);top:1546.88px;font-size:22.46px;color:#828282;">May 07</div>
<div class="t" id="x3" style="left:1024.20px;transform:translateX(-50%);top:1546.88px;font-size:22.46px;color:#828282;">May 10</div>
<div class="t" id="x4" style="left:1124.60px;transform:translateX(-50%);top:1546.88px;font-size:22.46px;color:#828282;">May 13</div>
<div class="t" id="x5" style="left:1225.00px;transform:translateX(-50%);top:1546.88px;font-size:22.46px;color:#828282;">May 16</div>
<div class="t" id="x6" style="left:1325.40px;transform:translateX(-50%);top:1546.88px;font-size:22.46px;color:#828282;">May 19</div>
<div class="t" id="x7" style="left:1425.80px;transform:translateX(-50%);top:1546.88px;font-size:22.46px;color:#828282;">May 22</div>
<div class="t" id="x8" style="left:1526.20px;transform:translateX(-50%);top:1546.88px;font-size:22.46px;color:#828282;">May 25</div>
<div class="t" id="x9" style="left:1626.60px;transform:translateX(-50%);top:1546.88px;font-size:22.46px;color:#828282;">May 28</div>
<div class="t" id="x10" style="left:1727.00px;transform:translateX(-50%);top:1546.88px;font-size:22.46px;color:#828282;">May 31</div>
<div class="t" id="x11" style="left:1827.40px;transform:translateX(-50%);top:1546.88px;font-size:22.46px;color:#828282;">Jun 03</div>
<div class="t" id="x12" style="left:1927.80px;transform:translateX(-50%);top:1546.88px;font-size:22.46px;color:#828282;">Jun 06</div>
<div class="t" id="x13" style="left:2028.20px;transform:translateX(-50%);top:1546.88px;font-size:22.46px;color:#828282;">Jun 09</div>
<div class="t" id="x14" style="left:2128.60px;transform:translateX(-50%);top:1546.88px;font-size:22.46px;color:#828282;">Jun 12</div>
<div class="t" id="x15" style="left:2229.00px;transform:translateX(-50%);top:1546.88px;font-size:22.46px;color:#828282;">Jun 15</div>
<div class="t" id="x16" style="left:2329.40px;transform:translateX(-50%);top:1546.88px;font-size:22.46px;color:#828282;">Jun 18</div>
<div class="t" id="x17" style="left:2429.80px;transform:translateX(-50%);top:1546.88px;font-size:22.46px;color:#828282;">Jun 21</div>
<div class="t" id="x18" style="left:2530.20px;transform:translateX(-50%);top:1546.88px;font-size:22.46px;color:#828282;">Jun 24</div>
<div class="t" id="x19" style="left:2630.60px;transform:translateX(-50%);top:1546.88px;font-size:22.46px;color:#828282;">Jun 27</div>
<div class="t" id="x20" style="left:2731.00px;transform:translateX(-50%);top:1546.88px;font-size:22.46px;color:#828282;">Jun 30</div>
</div>
</body></html>
